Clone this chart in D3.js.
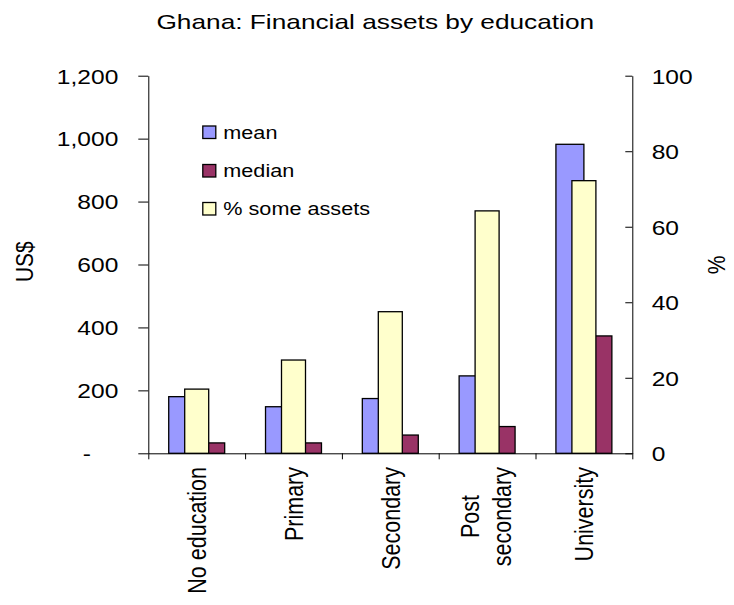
<!DOCTYPE html>
<html>
<head>
<meta charset="utf-8">
<script src="https://cdn.jsdelivr.net/npm/d3@7/dist/d3.min.js"></script>
<style>
  html, body { margin: 0; padding: 0; background: #fff; }
  svg { display: block; }
  text { font-family: "Liberation Sans", Arial, sans-serif; fill: #000; }
</style>
</head>
<body>
<svg id="chart" width="734" height="605"></svg>
<script>
// Education levels (two-line labels use "\n")
const categories = ["No education", "Primary", "Secondary", "Post\nsecondary", "University"];
// Financial assets, US$ (left axis)
const meanValues = [180, 148, 174, 246, 982];
const medianValues = [33, 33, 58, 85, 373];
// Share of households holding some financial assets, % (right axis)
const pctSomeAssets = [17.0, 24.7, 37.5, 64.2, 72.2];
// Axis ticks
const leftTicks = [0, 200, 400, 600, 800, 1000, 1200];
const rightTicks = [0, 20, 40, 60, 80, 100];
const seriesNames = ["mean", "median", "% some assets"];
const seriesColors = ["#9999FF", "#993366", "#FFFFCC"];

const svg = d3.select("#chart");
const X0 = 148.3, X1 = 632.3, Y0 = 75.7, Y1 = 453.3;
const SX = 1.17; // horizontal text stretch

const x = d3.scaleBand().domain(categories).range([X0, X1]).padding(0);
const bw = x.bandwidth();
const xPrimary = d3.scaleBand().domain(["mean", "median"]).range([0, bw]).paddingInner(0).paddingOuter(0.73);
const xSecondary = d3.scaleBand().domain(["pct"]).range([0, bw]).paddingOuter((bw / 24 - 1) / 2);
const yL = d3.scaleLinear().domain([0, 1200]).range([Y1, Y0]);
const yR = d3.scaleLinear().domain([0, 100]).range([Y1, Y0]);

// Title
svg.append("text")
  .attr("transform", `translate(375.3,29) scale(1.25,1)`)
  .attr("text-anchor", "middle")
  .style("font-size", "21px")
  .text("Ghana: Financial assets by education");

// Bars: primary axis series first, secondary series drawn on top
const barStroke = { stroke: "#000", width: 1.3 };
function drawBars(values, cls, xs, key, yScale, color) {
  svg.append("g").selectAll("rect").data(values).join("rect")
    .attr("class", cls)
    .attr("x", (d, i) => x(categories[i]) + xs(key))
    .attr("width", xs.bandwidth())
    .attr("y", d => yScale(d))
    .attr("height", d => Y1 - yScale(d))
    .attr("fill", color)
    .attr("stroke", barStroke.stroke)
    .attr("stroke-width", barStroke.width);
}
drawBars(meanValues, "mean", xPrimary, "mean", yL, seriesColors[0]);
drawBars(medianValues, "median", xPrimary, "median", yL, seriesColors[1]);
drawBars(pctSomeAssets, "pct", xSecondary, "pct", yR, seriesColors[2]);

// Left axis (US$)
const fmt = d3.format(",");
const leftAxis = svg.append("g").attr("transform", `translate(${X0},0)`)
  .call(d3.axisLeft(yL).tickValues(leftTicks).tickSizeInner(10).tickSizeOuter(0)
    .tickFormat(d => d === 0 ? "-" : fmt(d)));
const digitW = 0.556 * 21 * SX;
leftAxis.selectAll(".tick text")
  .attr("x", 0).attr("dy", "0.35em")
  .attr("transform", d => `translate(${d === 0 ? -30 - 2 * digitW : -30},0) scale(${SX},1)`)
  .style("font-size", "21px").style("font-family", null);

// Right axis (%)
const rightAxis = svg.append("g").attr("transform", `translate(${X1},0)`)
  .call(d3.axisRight(yR).tickValues(rightTicks).tickSizeInner(-7).tickSizeOuter(0));
rightAxis.selectAll(".tick text")
  .attr("x", 0).attr("dy", "0.35em")
  .attr("transform", `translate(19.4,0) scale(${SX},1)`)
  .style("font-size", "21px").style("font-family", null);

// Category axis: boundary ticks along the baseline
const xEdges = d3.scaleLinear().domain([0, categories.length]).range([X0, X1]);
svg.append("g").attr("transform", `translate(0,${Y1})`)
  .call(d3.axisBottom(xEdges).ticks(categories.length).tickSizeInner(6).tickSizeOuter(0).tickFormat(""));

[leftAxis, rightAxis].forEach(g => g.attr("font-family", null).attr("font-size", null));
svg.selectAll(".domain, .tick line").attr("stroke", "#000").attr("stroke-width", 1);

// Rotated category labels
const labelTop = 467, lineGap = 31.7, capShift = 9.2;
categories.forEach(c => {
  const lines = c.split("\n");
  const cx = x(c) + bw / 2;
  const g = svg.append("g");
  const texts = lines.map((ln, k) => g.append("text")
    .style("font-size", "21.5px")
    .attr("text-anchor", "middle")
    .text(ln));
  const maxLen = d3.max(texts, t => t.node().getComputedTextLength());
  const cy = labelTop + maxLen / 2;
  texts.forEach((t, k) => {
    const bx = cx + capShift + (k - (lines.length - 1) / 2) * lineGap - (lines.length > 1 ? 1.5 : 0);
    t.attr("transform", `translate(${bx},${cy}) scale(1.19,1) rotate(-90)`);
  });
});

// Axis titles
svg.append("text")
  .attr("transform", `translate(33,261.7) scale(${SX},1) rotate(-90)`)
  .attr("text-anchor", "middle").style("font-size", "21px").text("US$");
svg.append("text")
  .attr("transform", `translate(725,265) scale(${SX},1) rotate(-90)`)
  .attr("text-anchor", "middle").style("font-size", "21px").text("%");

// Legend
const legendTops = [126, 164.5, 202.5];
const legend = svg.append("g");
seriesNames.forEach((name, i) => {
  legend.append("rect")
    .attr("x", 202.8).attr("y", legendTops[i])
    .attr("width", 13).attr("height", 12.5)
    .attr("fill", seriesColors[i]).attr("stroke", "#000").attr("stroke-width", 1.3);
  legend.append("text")
    .attr("transform", `translate(223.3,${legendTops[i] + 12.5}) scale(${SX},1)`)
    .style("font-size", "18.5px")
    .text(name);
});
</script>
</body>
</html>
